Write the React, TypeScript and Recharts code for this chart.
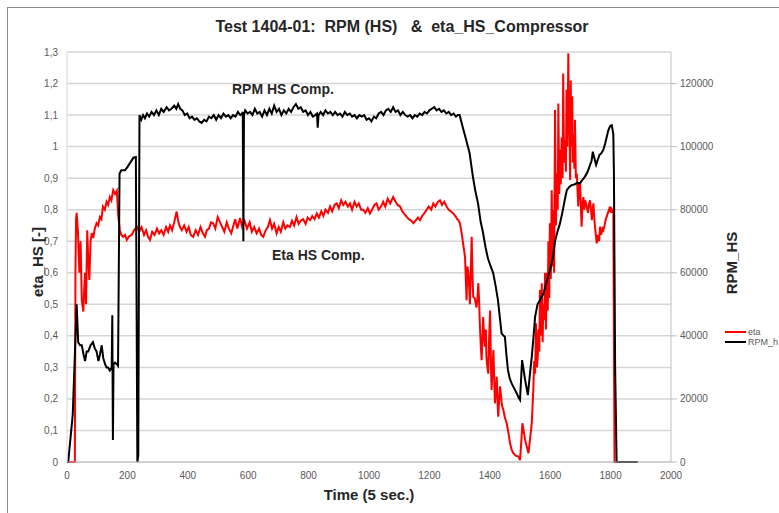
import { LineChart, Line, XAxis, YAxis, CartesianGrid } from "recharts";

// eta_HS_Compressor, [time step, eta]
const etaPoints: [number, number][] = [
  [0, 0], [26, 0], [28, 0.6], [30, 0.77], [32, 0.79], [36, 0.735], [41, 0.6], [45, 0.7], [49, 0.513], [54, 0.477],
  [57, 0.55], [60, 0.6], [63, 0.5], [67, 0.735], [70, 0.65], [74, 0.577], [78, 0.7], [82, 0.726], [87, 0.71], [92, 0.74],
  [98, 0.757], [103, 0.75], [109, 0.777], [114, 0.77], [119, 0.81], [125, 0.8], [131, 0.825], [136, 0.815], [142, 0.84], [147, 0.83],
  [153, 0.862], [159, 0.85], [165, 0.86], [170, 0.777], [175, 0.735], [180, 0.72], [186, 0.714], [192, 0.72], [198, 0.704], [205, 0.715],
  [214, 0.72], [222, 0.735], [231, 0.746], [239, 0.73], [247, 0.745], [255, 0.72], [262, 0.735], [268, 0.715], [275, 0.704], [282, 0.73],
  [290, 0.72], [298, 0.74], [305, 0.725], [312, 0.735], [320, 0.72], [328, 0.745], [335, 0.73], [341, 0.75], [348, 0.735], [355, 0.76],
  [363, 0.794], [369, 0.76], [374, 0.745], [380, 0.735], [388, 0.75], [396, 0.73], [403, 0.745], [410, 0.72], [418, 0.714], [426, 0.735],
  [434, 0.72], [442, 0.745], [450, 0.725], [457, 0.714], [463, 0.735], [470, 0.74], [477, 0.76], [484, 0.757], [491, 0.74], [499, 0.777],
  [507, 0.76], [514, 0.745], [521, 0.73], [529, 0.76], [536, 0.74], [544, 0.725], [551, 0.75], [557, 0.77], [564, 0.74], [573, 0.774],
  [580, 0.745], [588, 0.765], [596, 0.74], [605, 0.76], [612, 0.73], [620, 0.745], [628, 0.725], [636, 0.74], [643, 0.72], [650, 0.714],
  [658, 0.735], [665, 0.745], [672, 0.767], [679, 0.74], [686, 0.755], [694, 0.725], [701, 0.745], [708, 0.73], [716, 0.76], [723, 0.74],
  [730, 0.75], [738, 0.745], [745, 0.765], [752, 0.75], [760, 0.777], [767, 0.755], [774, 0.765], [782, 0.77], [790, 0.755], [797, 0.775],
  [805, 0.767], [812, 0.78], [820, 0.77], [827, 0.788], [834, 0.775], [842, 0.795], [849, 0.78], [856, 0.8], [864, 0.79], [871, 0.81],
  [878, 0.795], [886, 0.815], [893, 0.82], [900, 0.805], [908, 0.83], [915, 0.815], [922, 0.825], [930, 0.81], [937, 0.82], [944, 0.8],
  [952, 0.825], [959, 0.81], [966, 0.82], [974, 0.8], [981, 0.8], [988, 0.79], [996, 0.805], [1003, 0.788], [1010, 0.8], [1018, 0.815],
  [1025, 0.82], [1032, 0.8], [1040, 0.81], [1047, 0.825], [1054, 0.81], [1062, 0.835], [1070, 0.82], [1080, 0.84], [1088, 0.825], [1095, 0.815],
  [1103, 0.81], [1110, 0.795], [1118, 0.785], [1125, 0.777], [1132, 0.77], [1140, 0.765], [1147, 0.757], [1154, 0.765], [1162, 0.775], [1169, 0.767],
  [1176, 0.78], [1184, 0.79], [1191, 0.8], [1198, 0.81], [1206, 0.8], [1213, 0.82], [1220, 0.81], [1228, 0.825], [1235, 0.83], [1242, 0.815],
  [1249, 0.825], [1257, 0.81], [1264, 0.8], [1271, 0.795], [1279, 0.788], [1286, 0.78], [1292, 0.77], [1296, 0.767], [1301, 0.757], [1307, 0.725],
  [1312, 0.69], [1318, 0.65], [1323, 0.513], [1326, 0.62], [1329, 0.6], [1332, 0.55], [1334, 0.5], [1337, 0.6], [1340, 0.714], [1343, 0.58],
  [1345, 0.524], [1350, 0.52], [1356, 0.49], [1359, 0.52], [1362, 0.567], [1365, 0.5], [1367, 0.44], [1370, 0.37], [1373, 0.323], [1376, 0.4],
  [1378, 0.46], [1381, 0.4], [1384, 0.366], [1387, 0.42], [1389, 0.33], [1392, 0.3], [1395, 0.28], [1398, 0.4], [1401, 0.48], [1404, 0.3],
  [1406, 0.228], [1409, 0.3], [1412, 0.355], [1415, 0.25], [1417, 0.186], [1420, 0.23], [1423, 0.27], [1426, 0.18], [1428, 0.144], [1431, 0.2],
  [1434, 0.24], [1440, 0.18], [1445, 0.165], [1450, 0.14], [1456, 0.123], [1462, 0.09], [1467, 0.06], [1472, 0.04], [1478, 0.028], [1486, 0.02],
  [1495, 0.017], [1500, 0.006], [1504, 0.06], [1508, 0.123], [1512, 0.1], [1517, 0.07], [1522, 0.05], [1528, 0.028], [1533, 0.07], [1539, 0.123],
  [1544, 0.228], [1547, 0.32], [1550, 0.28], [1553, 0.44], [1556, 0.3], [1559, 0.334], [1561, 0.42], [1564, 0.35], [1566, 0.545], [1569, 0.4],
  [1572, 0.567], [1575, 0.38], [1577, 0.5], [1580, 0.45], [1583, 0.6], [1586, 0.42], [1589, 0.6], [1592, 0.48], [1594, 0.7], [1597, 0.52],
  [1599, 0.757], [1602, 0.58], [1605, 0.862], [1608, 0.62], [1611, 0.8], [1613, 0.6], [1616, 1.116], [1619, 0.75], [1622, 0.915], [1625, 0.8],
  [1627, 1.137], [1630, 0.85], [1632, 0.99], [1635, 0.88], [1638, 1.03], [1641, 0.9], [1643, 1.232], [1646, 0.95], [1649, 1.02], [1652, 0.92],
  [1654, 1.18], [1657, 1.0], [1660, 1.296], [1662, 1.05], [1663, 1.127], [1666, 0.894], [1668, 1.21], [1670, 1.0], [1671, 1.04], [1673, 1.16],
  [1675, 0.95], [1677, 1.04], [1680, 0.93], [1682, 1.085], [1685, 0.9], [1688, 0.915], [1691, 0.85], [1693, 0.81], [1696, 0.88], [1699, 0.884],
  [1702, 0.8], [1704, 0.746], [1707, 0.82], [1710, 0.84], [1713, 0.8], [1716, 0.83], [1721, 0.81], [1725, 0.79], [1729, 0.82], [1732, 0.83],
  [1735, 0.8], [1738, 0.767], [1741, 0.8], [1743, 0.82], [1747, 0.76], [1751, 0.72], [1754, 0.693], [1758, 0.72], [1762, 0.7], [1765, 0.746],
  [1769, 0.72], [1773, 0.74], [1776, 0.735], [1780, 0.75], [1784, 0.77], [1787, 0.777], [1791, 0.79], [1795, 0.8], [1798, 0.81], [1801, 0.79],
  [1804, 0.8], [1807, 0.79], [1809, 0.8], [1813, 0], [1820, 0],
];

// RPM_HS, [time step, rpm]
const rpmPoints: [number, number][] = [
  [0, 0], [4, 0], [19, 15000], [32, 50000], [37, 38000], [43, 37000], [49, 37000], [55, 34000], [60, 32000], [65, 35000],
  [70, 35000], [78, 37000], [86, 38000], [92, 36000], [98, 35000], [104, 32000], [109, 34000], [115, 37000], [120, 33000], [126, 31000],
  [131, 30000], [136, 30000], [142, 29000], [148, 30000], [150, 46500], [152, 7000], [154, 31000], [159, 31500], [165, 31000], [169, 30500],
  [174, 91500], [180, 92500], [192, 92500], [200, 93500], [210, 95000], [220, 96500], [228, 96700], [233, 0], [236, 2000], [240, 110000],
  [246, 108500], [252, 110000], [258, 109000], [265, 110500], [272, 109500], [280, 111000], [288, 110000], [296, 111500], [304, 110000], [312, 112000],
  [320, 111000], [330, 112500], [338, 111500], [346, 112000], [355, 113000], [362, 112000], [368, 113500], [375, 112000], [382, 111500], [390, 110000],
  [398, 110500], [406, 109000], [414, 109500], [422, 108500], [430, 109000], [438, 108000], [446, 107500], [454, 108500], [462, 108000], [470, 109500],
  [478, 109000], [486, 110000], [494, 108500], [502, 110000], [510, 109000], [518, 110500], [526, 109500], [534, 110000], [542, 109000], [550, 110000],
  [558, 109500], [566, 111000], [574, 110000], [580, 110500], [582, 111000], [584, 70000], [586, 110000], [590, 111500], [598, 110500], [606, 111000],
  [614, 110000], [622, 112000], [630, 110500], [638, 111000], [646, 109500], [654, 111500], [662, 110000], [670, 112000], [678, 110500], [686, 113000],
  [694, 111000], [702, 112000], [710, 110000], [718, 111500], [726, 110500], [734, 112000], [742, 111000], [750, 112500], [758, 113500], [766, 112000],
  [774, 112500], [782, 111000], [790, 111500], [798, 110000], [806, 111000], [814, 109500], [822, 110000], [828, 110500], [830, 106000], [833, 110000],
  [840, 111000], [848, 110000], [856, 111500], [864, 110500], [872, 111000], [880, 110000], [888, 111000], [896, 110000], [904, 110500], [912, 109500],
  [920, 111000], [928, 110000], [936, 110500], [944, 109500], [952, 110000], [960, 109000], [968, 110000], [976, 109500], [984, 110000], [992, 108500],
  [1000, 109000], [1008, 108000], [1016, 109500], [1024, 109000], [1032, 110500], [1040, 111000], [1048, 110000], [1056, 111500], [1064, 112000], [1072, 111000],
  [1080, 112500], [1088, 111000], [1096, 111500], [1104, 110000], [1112, 111000], [1120, 110000], [1128, 109500], [1136, 110000], [1144, 109000], [1152, 110000],
  [1160, 109500], [1168, 110500], [1176, 110000], [1184, 111000], [1192, 110500], [1200, 111500], [1208, 112000], [1216, 112500], [1224, 111500], [1232, 112000],
  [1240, 111000], [1248, 111500], [1256, 110500], [1264, 111000], [1272, 110000], [1280, 110500], [1288, 109500], [1294, 110000], [1300, 110000], [1310, 106300],
  [1322, 102000], [1333, 98000], [1344, 90500], [1352, 86000], [1361, 82000], [1370, 76000], [1377, 73000], [1386, 68000], [1394, 64500], [1403, 62000],
  [1411, 60000], [1419, 56000], [1427, 51300], [1433, 46000], [1439, 40800], [1446, 40000], [1450, 39700], [1455, 34000], [1460, 29200], [1466, 26500],
  [1472, 25000], [1480, 23500], [1489, 21800], [1495, 20500], [1500, 19700], [1507, 32300], [1517, 26000], [1526, 21200], [1532, 27000], [1539, 33400],
  [1545, 40000], [1550, 46000], [1558, 50000], [1566, 51300], [1578, 53500], [1589, 57500], [1600, 61000], [1609, 65000], [1616, 70000], [1624, 73000],
  [1632, 75500], [1640, 79000], [1648, 83000], [1655, 86200], [1663, 87200], [1671, 87800], [1680, 88000], [1690, 88500], [1699, 88400], [1707, 89500],
  [1715, 90500], [1724, 92000], [1732, 94200], [1737, 95500], [1741, 98400], [1746, 96500], [1752, 94200], [1758, 96000], [1763, 97300], [1770, 98000],
  [1776, 99000], [1782, 101000], [1787, 103000], [1792, 105000], [1796, 106000], [1800, 106700], [1804, 106800], [1809, 104000], [1811, 91500], [1815, 30000],
  [1820, 0], [1890, 0],
];

const timeTicks = [0, 200, 400, 600, 800, 1000, 1200, 1400, 1600, 1800, 2000];
const etaTicks = [0, 0.1, 0.2, 0.3, 0.4, 0.5, 0.6, 0.7, 0.8, 0.9, 1, 1.1, 1.2, 1.3];
const rpmTicks = [0, 20000, 40000, 60000, 80000, 100000, 120000];
const legendItems = [{ name: "eta", color: "#ff0000" }, { name: "RPM_h", color: "#000000" }];

const etaData = etaPoints.map(([t, eta]) => ({ t, eta }));
const rpmData = rpmPoints.map(([t, rpm]) => ({ t, rpm }));

const font = "'Liberation Sans Narrow', 'Liberation Sans', Arial, sans-serif";
const tickStyle = { fontSize: 10, fill: "#595959", fontFamily: font };
const titleStyle = { position: "absolute" as const, fontFamily: font, fontWeight: "bold" as const, color: "#262626", whiteSpace: "pre" as const };

export default function App() {
  return (
    <div style={{ position: "absolute", left: 0, top: 0, width: 779, height: 513, background: "#fff", overflow: "hidden" }}>
      <div style={{ position: "absolute", left: 7, top: 7, width: 790, height: 520, border: "1px solid #8c8c8c" }} />

      <LineChart width={779} height={513} data={etaData} margin={{ top: 52, right: 48, bottom: 31, left: 27 }}>
        <CartesianGrid yAxisId="eta" vertical={false} stroke="#d6d6d6" strokeWidth={1.5} />
        <XAxis
          type="number" dataKey="t" domain={[0, 2000]} ticks={timeTicks} allowDataOverflow
          tickLine={false} axisLine={{ stroke: "#bfbfbf" }} tick={tickStyle} height={20} tickMargin={4}
        />
        <YAxis
          yAxisId="eta" domain={[0, 1.3]} ticks={etaTicks} width={40} tickLine={false}
          axisLine={{ stroke: "#d6d6d6" }} tick={tickStyle} tickMargin={3}
          tickFormatter={(v: number) => String(Math.round(v * 10) / 10).replace(".", ",")}
        />
        <YAxis
          yAxisId="rpm" orientation="right" domain={[0, 130000]} ticks={rpmTicks} width={60}
          axisLine={{ stroke: "#bfbfbf" }} tickLine={{ stroke: "#bfbfbf" }} tick={{ ...tickStyle, textAnchor: "start" }}
          tickSize={6} tickMargin={3}
        />
        <Line yAxisId="eta" data={etaData} dataKey="eta" name="eta" type="linear" stroke="#ff0000" strokeWidth={2} dot={false} isAnimationActive={false} />
        <Line yAxisId="rpm" data={rpmData} dataKey="rpm" name="RPM_h" type="linear" stroke="#000000" strokeWidth={2} dot={false} isAnimationActive={false} />
      </LineChart>

      <div style={{ position: "absolute", left: 725, top: 327, fontFamily: font, fontSize: 9, color: "#595959", lineHeight: "10px" }}>
        {legendItems.map((s) => (
          <div key={s.name} style={{ display: "flex", alignItems: "center", whiteSpace: "nowrap" }}>
            <span style={{ display: "inline-block", width: 21, height: 2, background: s.color, marginRight: 2 }} />
            {s.name}
          </div>
        ))}
      </div>

      <div style={{ ...titleStyle, left: 0, width: 804, top: 18, textAlign: "center", fontSize: 16 }}>
        {"Test 1404-01:  RPM (HS)   &  eta_HS_Compressor"}
      </div>
      <div style={{ ...titleStyle, left: 232, top: 81, fontSize: 14 }}>RPM HS Comp.</div>
      <div style={{ ...titleStyle, left: 272, top: 247, fontSize: 14 }}>Eta HS Comp.</div>
      <div style={{ ...titleStyle, left: 269, width: 200, top: 486, textAlign: "center", fontSize: 15 }}>Time (5 sec.)</div>
      <div style={{ ...titleStyle, left: 37, top: 262, transform: "translate(-50%, -50%) rotate(-90deg)", fontSize: 15 }}>eta_HS [-]</div>
      <div style={{ ...titleStyle, left: 731, top: 263, transform: "translate(-50%, -50%) rotate(-90deg)", fontSize: 15 }}>RPM_HS</div>
    </div>
  );
}
